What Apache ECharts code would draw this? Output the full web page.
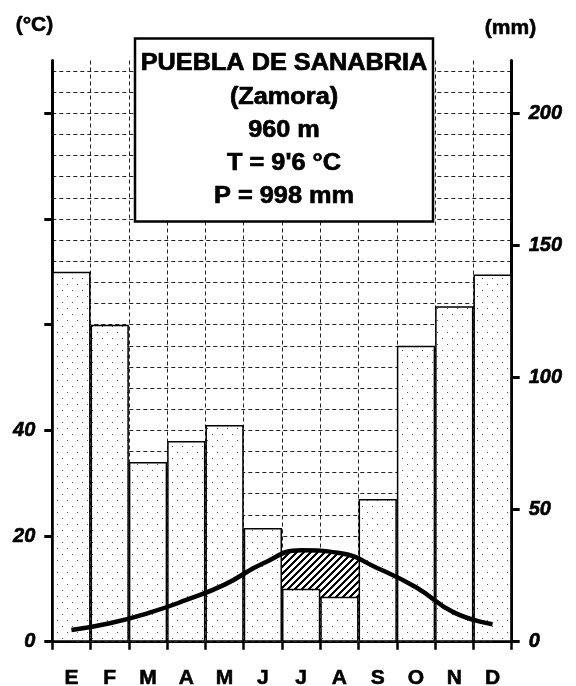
<!DOCTYPE html>
<html><head><meta charset="utf-8">
<script src="https://cdn.jsdelivr.net/npm/echarts@6/dist/echarts.min.js"></script>
<style>html,body{margin:0;padding:0;background:#fff}#c{width:576px;height:686px}</style>
</head><body><div id="c"></div>
<script>
// ---- data ----
const months = ['E','F','M','A','M','J','J','A','S','O','N','D'];
const precipitation = [140,120,68,76,82,43,20,17,54,112,127,139];   // mm
const temperature = [2.2,3.5,5.4,7.9,10.8,14.8,17.3,16.8,13.9,10.3,5.5,3.3]; // °C
const tempTicks = [0,20,40,60,80,100];
const tempLabels = [0,20,40];
const precTicks = [0,50,100,150,200];
const titleLines = ['PUEBLA DE SANABRIA','(Zamora)','960 m',"T = 9'6 °C",'P = 998 mm'];
const tempUnit = '(°C)';
const precUnit = '(mm)';

// ---- patterns ----
function makeDots(){
  const c=document.createElement('canvas');c.width=10;c.height=12;
  const g=c.getContext('2d');g.fillStyle='#fff';g.fillRect(0,0,10,12);
  g.fillStyle='#555';g.fillRect(2,2,1,1);g.fillRect(7,8,1,1);return c;
}
function makeHatch(){
  const n=7;const c=document.createElement('canvas');c.width=n;c.height=n;
  const g=c.getContext('2d');const img=g.createImageData(n,n);
  for(let y=0;y<n;y++)for(let x=0;x<n;x++){
    const i=(y*n+x)*4;const k=((x+y)%n)<3?0:255;
    img.data[i]=img.data[i+1]=img.data[i+2]=k;img.data[i+3]=255;
  }
  g.putImageData(img,0,0);return c;
}
const dotPattern={image:makeDots(),repeat:'repeat'};
const hatchPattern={image:makeHatch(),repeat:'repeat'};

const FONT='"Liberation Sans", Arial, sans-serif';
const chart=echarts.init(document.getElementById('c'),null,{renderer:'canvas'});

const titleGraphics=[{
  type:'rect',z:100,shape:{x:135,y:38.5,width:298,height:183},
  style:{fill:'#fff',stroke:'#000',lineWidth:2.5}
}];
titleLines.forEach((t,i)=>{
  titleGraphics.push({type:'text',z:101,x:284,y:64+33.2*i,scaleX:1.1,
    style:{text:t,fill:'#000',stroke:'#000',lineWidth:0.7,font:'bold 23px '+FONT,textAlign:'center',textVerticalAlign:'middle'}});
});
titleGraphics.push({type:'text',z:101,x:34.5,y:25,style:{text:tempUnit,fill:'#000',stroke:'#000',lineWidth:0.6,font:'bold 21px '+FONT,textAlign:'center',textVerticalAlign:'middle'}});
titleGraphics.push({type:'text',z:101,x:510.5,y:28,style:{text:precUnit,fill:'#000',stroke:'#000',lineWidth:0.6,font:'bold 21px '+FONT,textAlign:'center',textVerticalAlign:'middle'}});

const dash={color:'#222',width:1,type:[4,3]};
const numLabel={color:'#000',fontFamily:FONT,fontWeight:'bold',fontStyle:'italic',fontSize:20,margin:17,textBorderColor:'#000',textBorderWidth:0.6};
chart.setOption({
  animation:false,
  backgroundColor:'#fff',
  grid:[
    {left:52.3,right:64.3,top:60.5,bottom:44.3,outerBoundsMode:'none',containLabel:false},
    {left:52.3,right:64.3,top:71.0,bottom:44.3,outerBoundsMode:'none',containLabel:false}
  ],
  xAxis:[
    {type:'category',gridIndex:0,data:months,boundaryGap:true,
     axisLine:{lineStyle:{color:'#000',width:3}},
     axisTick:{show:true,length:8,lineStyle:{color:'#000',width:2.5}},
     axisLabel:{color:'#000',fontFamily:FONT,fontWeight:'bold',fontSize:21,margin:26,textBorderColor:'#000',textBorderWidth:0.6},
     splitLine:{show:true,lineStyle:dash}},
    {type:'category',gridIndex:1,data:months,show:false}
  ],
  yAxis:[
    {type:'value',gridIndex:0,position:'left',min:0,max:110,interval:20,
     axisLine:{show:true,lineStyle:{color:'#000',width:3}},
     axisTick:{show:true,length:8,customValues:tempTicks,lineStyle:{color:'#000',width:3}},
     axisLabel:Object.assign({customValues:tempLabels},numLabel),
     splitLine:{show:false}},
    {type:'value',gridIndex:0,position:'right',min:0,max:220,interval:50,
     axisLine:{show:true,lineStyle:{color:'#000',width:3}},
     axisTick:{show:true,length:8,customValues:precTicks,lineStyle:{color:'#000',width:3}},
     axisLabel:Object.assign({customValues:precTicks},numLabel),
     splitLine:{show:false}},
    {type:'value',gridIndex:1,min:0,max:108,interval:4,
     axisLine:{show:false},axisTick:{show:false},axisLabel:{show:false},
     splitLine:{show:true,lineStyle:dash}}
  ],
  series:[
    {type:'line',xAxisIndex:0,yAxisIndex:0,data:temperature,smooth:true,symbol:'none',silent:true,z:1,
     lineStyle:{width:0,color:'#000'},areaStyle:{color:hatchPattern,opacity:1}},
    {type:'bar',xAxisIndex:0,yAxisIndex:1,data:precipitation,barCategoryGap:'0%',silent:true,z:2,
     itemStyle:{color:dotPattern,borderColor:'#000',borderWidth:1.5}},
    {type:'line',xAxisIndex:0,yAxisIndex:0,data:temperature,smooth:true,symbol:'none',silent:true,z:3,
     lineStyle:{width:4.5,color:'#000'}}
  ],
  graphic:titleGraphics
});
</script></body></html>
